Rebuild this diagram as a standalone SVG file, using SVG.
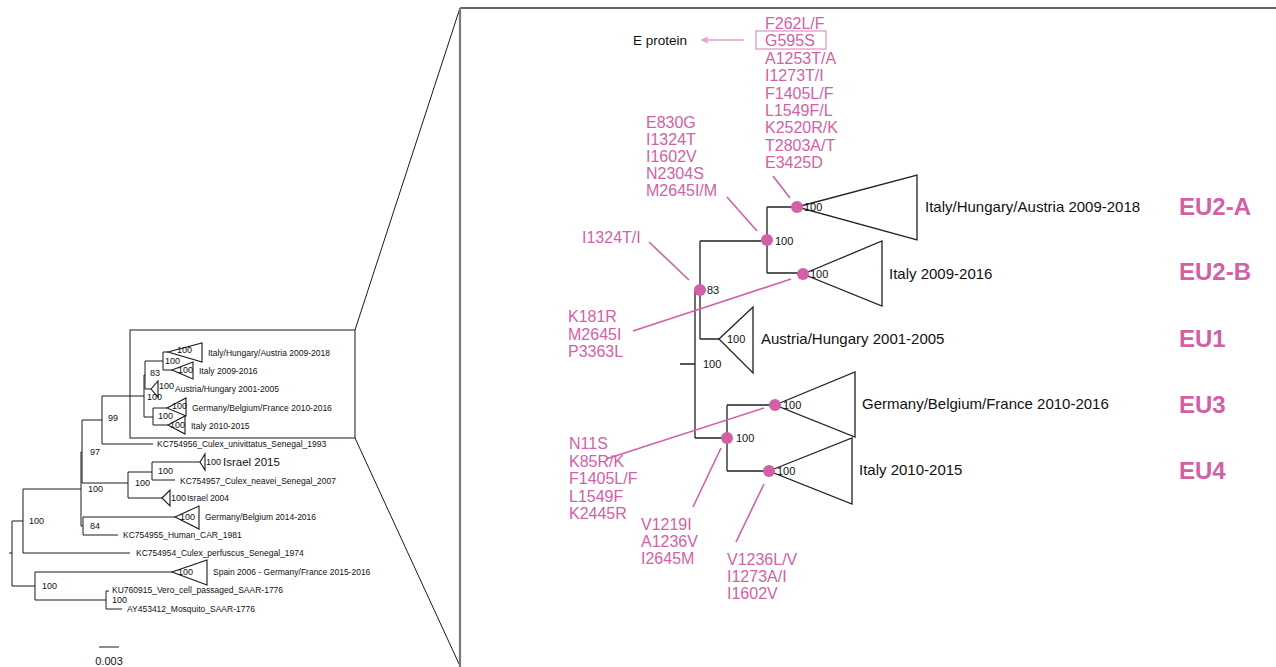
<svg xmlns="http://www.w3.org/2000/svg" width="1276" height="667" viewBox="0 0 1276 667">
<defs>
<style>
.ln{stroke:#1a1a1a;stroke-width:1;fill:none}
.tri{stroke:#1a1a1a;stroke-width:1.1;fill:#fff}
.rl{stroke:#222;stroke-width:1.3;fill:none}
.rtri{stroke:#222;stroke-width:1.3;fill:#fff}
.pl{stroke:#d35fa6;stroke-width:1.6;fill:none}
.dot{fill:#d35fa6}
.st{font-family:"Liberation Sans",Arial,sans-serif;font-size:8.5px;fill:#111}
.sb{font-family:"Liberation Sans",Arial,sans-serif;font-size:9px;fill:#111}
.tl{font-family:"Liberation Sans",Arial,sans-serif;font-size:15px;fill:#111}
.bs{font-family:"Liberation Sans",Arial,sans-serif;font-size:11px;fill:#111}
.pk{font-family:"Liberation Sans",Arial,sans-serif;font-size:16px;fill:#d35fa6}
.eu{font-family:"Liberation Sans",Arial,sans-serif;font-size:24px;font-weight:bold;fill:#d35fa6}
</style>
<marker id="ah" viewBox="0 0 10 10" refX="1" refY="5" markerWidth="9" markerHeight="7" markerUnits="userSpaceOnUse" orient="auto-start-reverse">
<path d="M0,0 L10,5 L0,10 z" fill="#ec9fcf"/>
</marker>
</defs>

<g id="frame">
<rect x="130" y="330" width="225" height="108" class="ln"/>
<line x1="355" y1="330" x2="460" y2="8" class="ln"/>
<line x1="355" y1="438" x2="460" y2="666" class="ln"/>
<line x1="460" y1="8" x2="1276" y2="8" stroke="#333" stroke-width="1.5"/>
<line x1="460" y1="8" x2="460" y2="667" stroke="#7a7a7a" stroke-width="2.2"/>
</g>

<g id="left-tree">
<path class="ln" d="M9,553H12 M12,521V586 M12,521H23 M23,489V553 M23,553H130 M23,489H81 M81,452V526 M81,452H82 M82,420V483 M82,420H102 M102,396V444 M102,444H153 M102,396H144 M144,375V417 M144,375H145 M145,361V389 M145,361H163 M163,352V370 M163,352H168 M163,370H172 M145,389H151 M144,417H153 M153,408V425 M153,408H167 M153,425H168 M82,483H128 M128,472V498 M128,472H152 M152,462V480 M152,462H200 M152,480H175 M128,498H162 M81,526H83 M83,517V535 M83,517H175 M83,535H118 M12,586H35 M35,572V600 M35,572H172 M35,600H106 M106,591V609 M106,591H109 M106,609H122 M99,647H119"/>
<polygon class="tri" points="168,352 202,343 202,362"/>
<polygon class="tri" points="172,370 193,362 193,379"/>
<polygon class="tri" points="151,389 158,381 158,397"/>
<polygon class="tri" points="167,408 186,398 186,416"/>
<polygon class="tri" points="168,425 185,416 185,434"/>
<polygon class="tri" points="200,462 205,454 205,470"/>
<polygon class="tri" points="162,498 170,490 170,506"/>
<polygon class="tri" points="175,517 199,506 199,529"/>
<polygon class="tri" points="172,572 207,560 207,585"/>
<text class="st" x="208" y="356">Italy/Hungary/Austria 2009-2018</text>
<text class="st" x="199" y="374">Italy 2009-2016</text>
<text class="st" x="175" y="392">Austria/Hungary 2001-2005</text>
<text class="st" x="192" y="411">Germany/Belgium/France 2010-2016</text>
<text class="st" x="191" y="429">Italy 2010-2015</text>
<text class="st" x="157" y="447">KC754956_Culex_univittatus_Senegal_1993</text>
<text x="223" y="466" font-family="Liberation Sans, Arial, sans-serif" font-size="11.5" fill="#111">Israel 2015</text>
<text class="st" x="180" y="484">KC754957_Culex_neavei_Senegal_2007</text>
<text class="st" x="187" y="501">Israel 2004</text>
<text class="st" x="205" y="520">Germany/Belgium 2014-2016</text>
<text class="st" x="123" y="538">KC754955_Human_CAR_1981</text>
<text class="st" x="136" y="556">KC754954_Culex_perfuscus_Senegal_1974</text>
<text class="st" x="213" y="575">Spain 2006 - Germany/France 2015-2016</text>
<text class="st" x="112" y="593">KU760915_Vero_cell_passaged_SAAR-1776</text>
<text class="st" x="127" y="612">AY453412_Mosquito_SAAR-1776</text>
<text class="sb" x="177" y="353">100</text>
<text class="sb" x="165" y="364">100</text>
<text class="sb" x="178" y="373">100</text>
<text class="sb" x="150" y="376">83</text>
<text class="sb" x="159" y="389">100</text>
<text class="sb" x="147" y="400">100</text>
<text class="sb" x="172" y="409">100</text>
<text class="sb" x="158" y="419">100</text>
<text class="sb" x="170" y="428">100</text>
<text class="sb" x="108" y="421">99</text>
<text class="sb" x="90" y="455">97</text>
<text class="sb" x="206" y="465">100</text>
<text class="sb" x="158" y="474">100</text>
<text class="sb" x="135" y="486">100</text>
<text class="sb" x="88" y="492">100</text>
<text class="sb" x="171" y="501">100</text>
<text class="sb" x="180" y="520">100</text>
<text class="sb" x="29" y="524">100</text>
<text class="sb" x="90" y="529">84</text>
<text class="sb" x="178" y="575">100</text>
<text class="sb" x="42" y="589">100</text>
<text class="sb" x="112" y="603">100</text>
<text x="109" y="665" text-anchor="middle" font-family="Liberation Sans, Arial, sans-serif" font-size="11" fill="#111">0.003</text>
</g>

<g id="connectors">
<path class="rl" d="M680,364H695 M695,290V438 M695,290H700 M700,241V339 M700,241H767 M700,339H719 M767,207V273 M767,207H797 M767,273H803 M695,438H727 M727,405V471 M727,405H775 M727,471H769"/>
<line class="pl" x1="773" y1="176" x2="790" y2="198"/>
<line class="pl" x1="727" y1="197" x2="757" y2="231"/>
<line class="pl" x1="649" y1="242" x2="689" y2="280"/>
<line class="pl" x1="633" y1="331" x2="791" y2="279"/>
<line class="pl" x1="606" y1="459" x2="764" y2="408"/>
<line class="pl" x1="693" y1="507" x2="721" y2="448"/>
<line class="pl" x1="736" y1="542" x2="764" y2="484"/>
<line x1="744" y1="40" x2="707" y2="40" stroke="#ec9fcf" stroke-width="1.6" marker-end="url(#ah)"/>
</g>

<g id="clade-EU2-A">
<polygon class="rtri" points="797,207 917,175 917,240"/>
<circle class="dot" cx="797" cy="207" r="6"/>
<text class="bs" x="804" y="211">100</text>
<text class="tl" x="925" y="212">Italy/Hungary/Austria 2009-2018</text>
<text class="eu" x="1179" y="215">EU2-A</text>
</g>
<g id="clade-EU2-B">
<polygon class="rtri" points="803,274 882,241 882,306"/>
<circle class="dot" cx="803" cy="274" r="6"/>
<text class="bs" x="810" y="278">100</text>
<text class="tl" x="889" y="279">Italy 2009-2016</text>
<text class="eu" x="1179" y="280">EU2-B</text>
</g>
<g id="clade-EU1">
<polygon class="rtri" points="719,339 753,307 753,373"/>
<text class="bs" x="727" y="343">100</text>
<text class="tl" x="761" y="344">Austria/Hungary 2001-2005</text>
<text class="eu" x="1179" y="347">EU1</text>
</g>
<g id="clade-EU3">
<polygon class="rtri" points="775,405 855,372 855,437"/>
<circle class="dot" cx="775" cy="405" r="6"/>
<text class="bs" x="783" y="409">100</text>
<text class="tl" x="862" y="409">Germany/Belgium/France 2010-2016</text>
<text class="eu" x="1179" y="413">EU3</text>
</g>
<g id="clade-EU4">
<polygon class="rtri" points="769,471 852,438 852,504"/>
<circle class="dot" cx="769" cy="471" r="6"/>
<text class="bs" x="777" y="475">100</text>
<text class="tl" x="859" y="475">Italy 2010-2015</text>
<text class="eu" x="1179" y="479">EU4</text>
</g>
<g id="node-EU2">
<circle class="dot" cx="767" cy="240" r="6"/>
<text class="bs" x="775" y="245">100</text>
</g>
<g id="node-83">
<circle class="dot" cx="700" cy="290" r="6"/>
<text class="bs" x="707" y="294">83</text>
</g>
<g id="node-root">
<text class="bs" x="703" y="368">100</text>
</g>
<g id="node-EU34">
<circle class="dot" cx="727" cy="438" r="6"/>
<text class="bs" x="736" y="442">100</text>
</g>

<g id="mut-EU2A">
<text class="pk"><tspan x="765" y="29">F262L/F</tspan><tspan x="765" y="46">G595S</tspan><tspan x="765" y="64">A1253T/A</tspan><tspan x="765" y="81">I1273T/I</tspan><tspan x="765" y="99">F1405L/F</tspan><tspan x="765" y="116">L1549F/L</tspan><tspan x="765" y="133">K2520R/K</tspan><tspan x="765" y="151">T2803A/T</tspan><tspan x="765" y="168">E3425D</tspan></text>
<rect x="756" y="31" width="70" height="18" fill="none" stroke="#e58cc3" stroke-width="1.2"/>
<text x="633" y="45" font-family="Liberation Sans, Arial, sans-serif" font-size="13.5" fill="#111">E protein</text>
</g>
<g id="mut-EU2">
<text class="pk"><tspan x="646" y="128">E830G</tspan><tspan x="646" y="145">I1324T</tspan><tspan x="646" y="162">I1602V</tspan><tspan x="646" y="179">N2304S</tspan><tspan x="646" y="196">M2645I/M</tspan></text>
</g>
<g id="mut-83">
<text class="pk" x="582" y="243">I1324T/I</text>
</g>
<g id="mut-EU2B">
<text class="pk"><tspan x="568" y="322">K181R</tspan><tspan x="568" y="340">M2645I</tspan><tspan x="568" y="357">P3363L</tspan></text>
</g>
<g id="mut-EU3">
<text class="pk"><tspan x="569" y="449">N11S</tspan><tspan x="569" y="467">K85R/K</tspan><tspan x="569" y="484">F1405L/F</tspan><tspan x="569" y="502">L1549F</tspan><tspan x="569" y="519">K2445R</tspan></text>
</g>
<g id="mut-EU34">
<text class="pk"><tspan x="641" y="530">V1219I</tspan><tspan x="641" y="547">A1236V</tspan><tspan x="641" y="564">I2645M</tspan></text>
</g>
<g id="mut-EU4">
<text class="pk"><tspan x="727" y="565">V1236L/V</tspan><tspan x="727" y="582">I1273A/I</tspan><tspan x="727" y="599">I1602V</tspan></text>
</g>
</svg>
